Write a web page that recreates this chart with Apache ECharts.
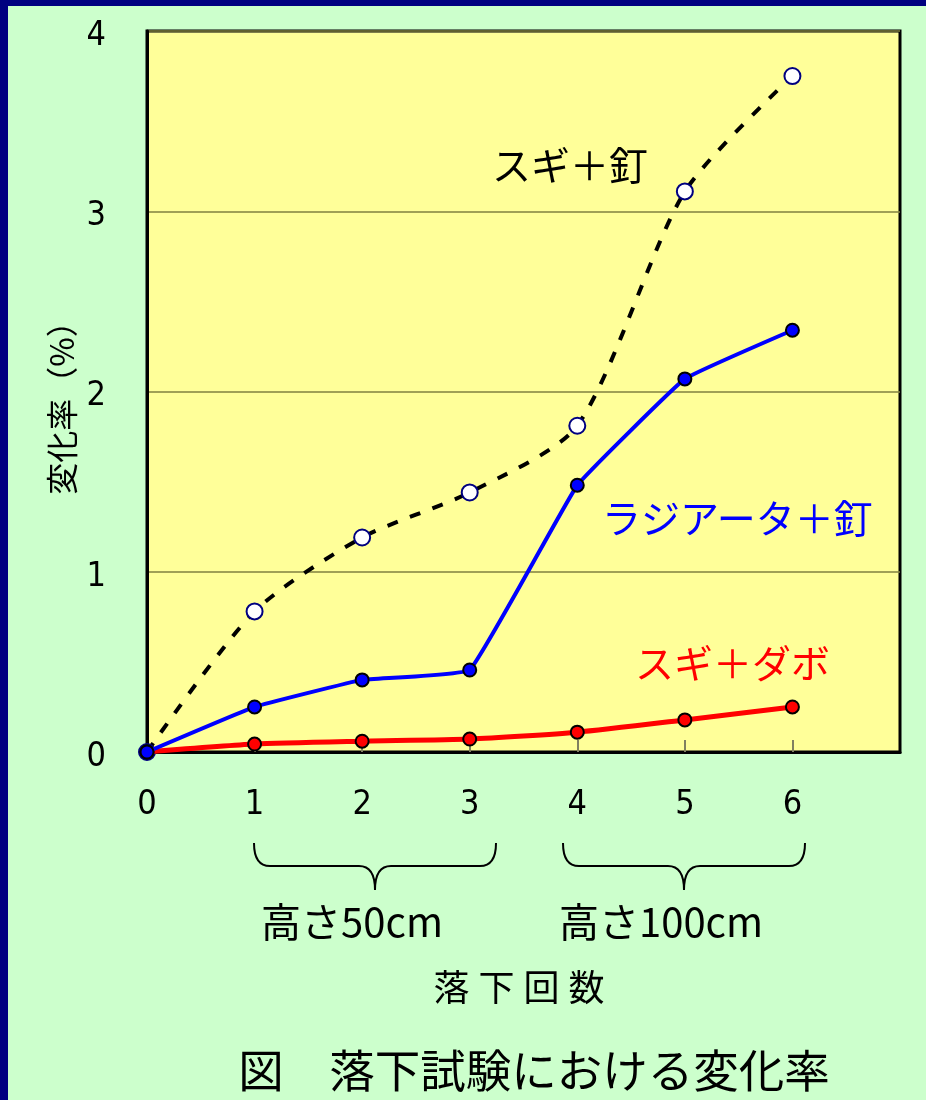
<!DOCTYPE html>
<html>
<head>
<meta charset="utf-8">
<script src="https://cdn.jsdelivr.net/npm/echarts@6/dist/echarts.min.js"></script>
<style>
  html, body { margin: 0; padding: 0; background: #CCFFCC; }
  #chart { width: 926px; height: 1100px; }
</style>
</head>
<body>
<div id="chart"></div>
<script>
// Number of drops (x) and change ratio in % for each specimen type
const drops = [0, 1, 2, 3, 4, 5, 6];
const sugiNail = [0, 0.78, 1.19, 1.44, 1.81, 3.11, 3.75];
const radiataNail = [0, 0.25, 0.40, 0.455, 1.48, 2.07, 2.34];
const sugiDowel = [0, 0.044, 0.06, 0.072, 0.11, 0.178, 0.25];
const yTicks = [0, 1, 2, 3, 4];

const seriesNames = ['スギ＋釘', 'ラジアータ＋釘', 'スギ＋ダボ'];

const pairs = vals => drops.map((d, i) => [d, vals[i]]);

const CJK = '"Noto Sans CJK JP", "Noto Sans", sans-serif';
const DIGIT = '"Liberation Sans Narrow", "DejaVu Sans Condensed", "Noto Sans", sans-serif';

const chart = echarts.init(document.getElementById('chart'), null, { renderer: 'canvas' });

// Curly brace under a range of drop counts, built from curves and lines
function brace(x1, x2, yTop) {
  const xm = (x1 + x2) / 2, yMid = yTop + 23, yTip = yTop + 47, r = 16;
  const st = { fill: 'none', stroke: '#000', lineWidth: 2 };
  const q = (ax, ay, cx, cy, bx, by) => ({
    type: 'bezierCurve', shape: { x1: ax, y1: ay, cpx1: cx, cpy1: cy, x2: bx, y2: by }, style: st, z: 10
  });
  const l = (ax, ay, bx, by) => ({ type: 'line', shape: { x1: ax, y1: ay, x2: bx, y2: by }, style: st, z: 10 });
  return [
    q(x1, yTop, x1, yMid, x1 + r, yMid),
    l(x1 + r, yMid, xm - r, yMid),
    q(xm - r, yMid, xm, yMid, xm, yTip),
    q(xm, yTip, xm, yMid, xm + r, yMid),
    l(xm + r, yMid, x2 - r, yMid),
    q(x2 - r, yMid, x2, yMid, x2, yTop)
  ];
}

const txt = (x, y, text, size, color, extra) => ({
  type: 'text', x, y, z: 10,
  style: Object.assign({ text, fill: color, font: `${size}px ${CJK}`, textVerticalAlign: 'middle' }, extra || {})
});

const option = {
  animation: false,
  backgroundColor: '#CCFFCC',
  grid: {
    left: 147, right: 26, top: 31, bottom: 348,
    show: true, backgroundColor: '#FFFF99', borderColor: '#000', borderWidth: 3
  },
  xAxis: {
    type: 'value', min: 0, max: 7, interval: 1,
    axisLine: { lineStyle: { color: '#000', width: 3 } },
    axisTick: { inside: true, length: 12, customValues: drops.slice(1), lineStyle: { color: '#808060', width: 2 } },
    splitLine: { show: false },
    axisLabel: {
      margin: 36, color: '#000', fontSize: 34, fontFamily: DIGIT,
      customValues: drops
    }
  },
  yAxis: {
    type: 'value', min: yTicks[0], max: yTicks[yTicks.length - 1], interval: 1,
    axisLine: { show: true, lineStyle: { color: '#000', width: 3 } },
    axisTick: { show: false },
    splitLine: { lineStyle: { color: '#808040', width: 1.5 } },
    axisLabel: { margin: 41, color: '#000', fontSize: 34, fontFamily: DIGIT, verticalAlign: 'top', lineHeight: 10 }
  },
  series: [
    {
      name: seriesNames[0], type: 'line', data: pairs(sugiNail), smooth: 0.25, z: 2,
      lineStyle: { color: '#000', width: 4, type: [11, 13] },
      symbol: 'circle', symbolSize: 16,
      itemStyle: { color: '#FFFFFF', borderColor: '#000080', borderWidth: 2 }
    },
    {
      name: seriesNames[2], type: 'line', data: pairs(sugiDowel), smooth: 0.2, z: 3,
      lineStyle: { color: '#FF0000', width: 5 },
      symbol: 'circle', symbolSize: 13,
      itemStyle: { color: '#FF0000', borderColor: '#000', borderWidth: 2 }
    },
    {
      name: seriesNames[1], type: 'line', data: pairs(radiataNail), smooth: 0.08, z: 4,
      lineStyle: { color: '#0000FF', width: 4 },
      symbol: 'circle', symbolSize: 13,
      itemStyle: { color: '#0000FF', borderColor: '#000', borderWidth: 2 }
    }
  ],
  graphic: [
    // frame band along the left and top edges
    { type: 'rect', shape: { x: 0, y: 0, width: 926, height: 6 }, style: { fill: '#000080' }, z: 20 },
    { type: 'rect', shape: { x: 0, y: 0, width: 8, height: 1100 }, style: { fill: '#000080' }, z: 20 },
    // series names next to the curves
    txt(492, 165, seriesNames[0], 39, '#000'),
    txt(602, 518, seriesNames[1], 39, '#0000FF'),
    txt(635, 663, seriesNames[2], 39, '#FF0000'),
    // y-axis title
    Object.assign(txt(62, 400, '変化率（%）', 32, '#000', { textAlign: 'center' }), { rotation: Math.PI / 2 }),
    // drop-height groups
    ...brace(254, 496, 843),
    ...brace(563, 805, 843),
    txt(352, 922, '高さ50cm', 40, '#000', { textAlign: 'center' }),
    txt(661, 922, '高さ100cm', 40, '#000', { textAlign: 'center' }),
    // x-axis title
    txt(519, 987, '落\u2005下\u2005回\u2005数', 36, '#000', { textAlign: 'center' }),
    // figure caption
    txt(534, 1071, '図　落下試験における変化率', 45.5, '#000', { textAlign: 'center' })
  ]
};

chart.setOption(option);
</script>
</body>
</html>
